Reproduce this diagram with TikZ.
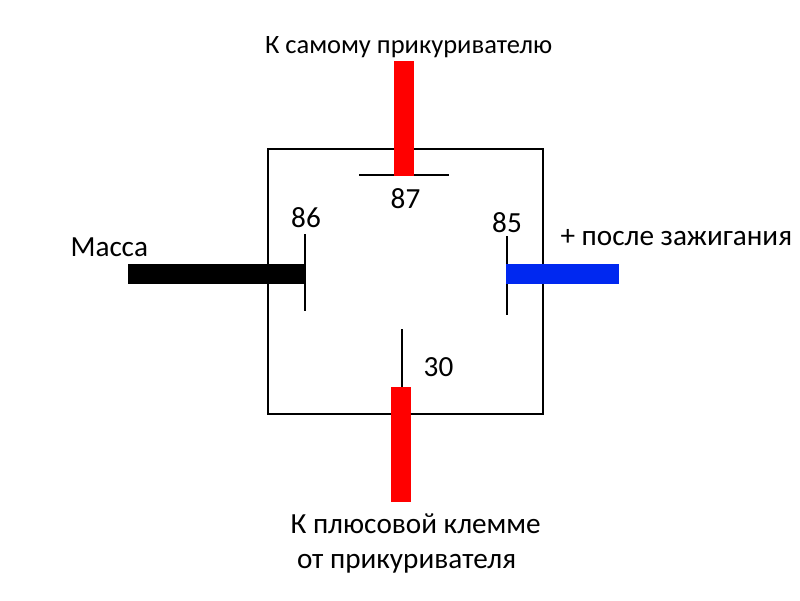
\documentclass[tikz,border=0pt]{standalone}
\usepackage{fontspec}
\setmainfont{Carlito}
\definecolor{wirered}{RGB}{255,0,0}
\definecolor{wireblue}{RGB}{0,40,240}
\tikzset{
  lbl/.style={inner sep=0pt,font=\fontsize{29.2}{35}\selectfont},
  lbltop/.style={inner sep=0pt,font=\fontsize{26.5}{32}\selectfont},
}
\begin{document}
\begin{tikzpicture}[x=1pt,y=-1pt,line width=1.1pt]
  \useasboundingbox (0,0) rectangle (800,600);
  \node[draw,line width=1.1pt,minimum width=275pt,minimum height=265pt,inner sep=0pt] (box) at (405.5,281.5) {};
  % contacts
  \coordinate (c87a) at (359,175);
  \coordinate (c87b) at (449,175);
  \coordinate (c86a) at (305,234);
  \coordinate (c86b) at (305,311);
  \coordinate (c85a) at (507,236);
  \coordinate (c85b) at (507,315);
  \coordinate (c30a) at (402,329);
  \coordinate (c30b) at (402,387);
  \draw (c87a) -- (c87b);
  \draw (c86a) -- (c86b);
  \draw (c85a) -- (c85b);
  \draw (c30a) -- (c30b);
  % wires
  \fill[wirered] (394,61) rectangle (414,175.5);
  \fill[black] (128,264) rectangle (305,284);
  \fill[wireblue] (506,264) rectangle (619,284);
  \fill[wirered] (391,387) rectangle (411,502);
  % labels
  \node[lbl] (l87) at (405.5,199) {87};
  \node[lbl] (l86) at (306,218) {86};
  \node[lbl] (l85) at (507,223) {85};
  \node[lbl] (l30) at (438.5,367) {30};
  \node[lbltop,anchor=west] (top) at (264.5,47.5) {К самому прикуривателю};
  \node[lbl,anchor=west] (mass) at (70,247) {Масса};
  \node[lbl,anchor=west] (plus) at (560,238) {+ после зажигания};
  \node[lbl,anchor=west] (bot1) at (290,524) {К плюсовой клемме};
  \node[lbl,anchor=west] (bot2) at (296.5,564) {от прикуривателя};
\end{tikzpicture}
\end{document}
